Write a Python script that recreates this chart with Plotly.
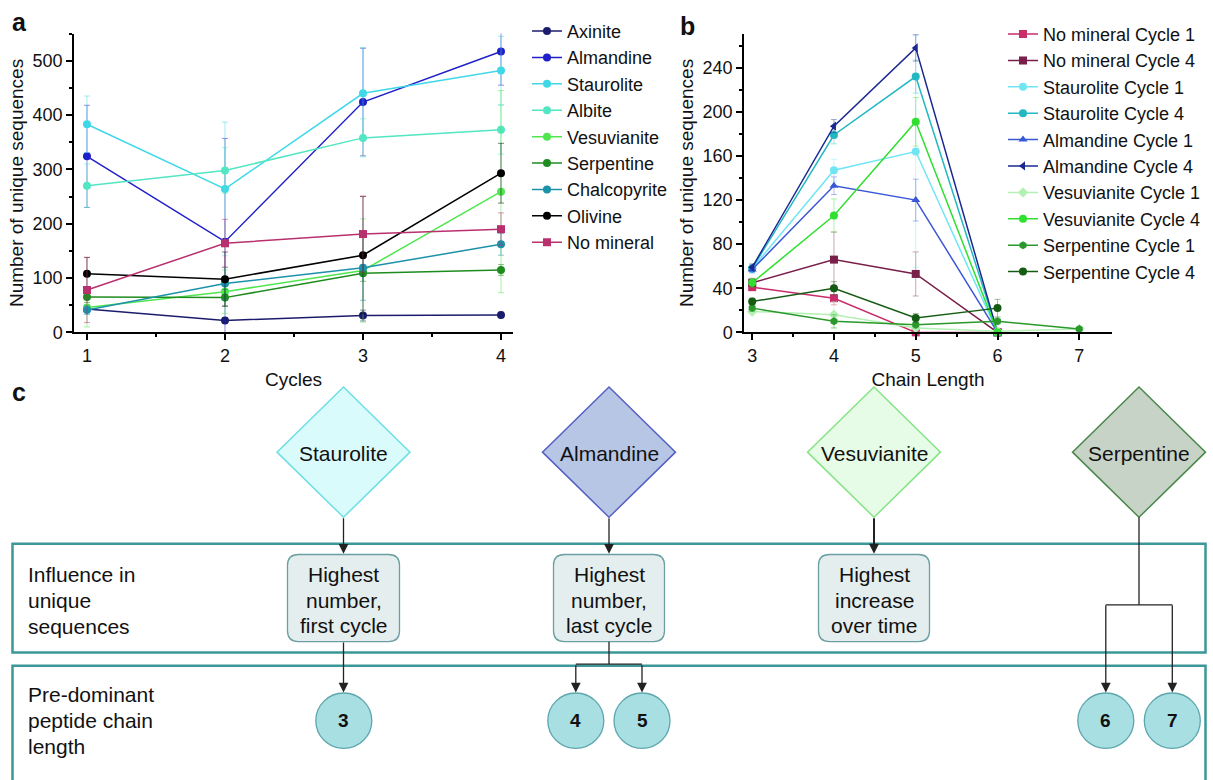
import plotly.graph_objects as go

W, H = 1213, 780
FONT = "Liberation Sans, Arial, Helvetica, sans-serif"


def px(x):
    return x / W


def py(y):
    return 1 - y / H


# ---------------- Panel a data ----------------
cycles = [1, 2, 3, 4]
names_a = ["Axinite", "Almandine", "Staurolite", "Albite", "Vesuvianite",
           "Serpentine", "Chalcopyrite", "Olivine", "No mineral"]
axinite = [43, 22, 31, 32]
almandine = [324, 167, 424, 517]
staurolite = [383, 264, 440, 482]
albite = [270, 298, 358, 373]
vesuvianite = [46, 75, 114, 259]
serpentine = [65, 64, 109, 115]
chalcopyrite = [41, 90, 119, 162]
olivine = [108, 98, 142, 293]
no_mineral = [78, 164, 181, 190]

err_axinite = [5, 5, 10, 5]
err_almandine = [94, 190, 99, 62]
err_staurolite = [52, 123, 84, 63]
err_albite = [40, 42, 35, 45]
err_vesuvianite = [36, 40, 95, 186]
err_serpentine = [10, 15, 15, 10]
err_chalcopyrite = [8, 30, 60, 20]
err_olivine = [30, 50, 108, 55]
err_no_mineral = [60, 44, 70, 30]

colors_a = ["#1c1c6e", "#2020c8", "#40d8e8", "#52e6c2", "#50e650",
            "#1f8c1f", "#1c92aa", "#000000", "#b8306e"]
symbols_a = ["circle"] * 8 + ["square"]

# ---------------- Panel b data ----------------
chain_length = [3, 4, 5, 6, 7]
names_b = ["No mineral Cycle 1", "No mineral Cycle 4", "Staurolite Cycle 1",
           "Staurolite Cycle 4", "Almandine Cycle 1", "Almandine Cycle 4",
           "Vesuvianite Cycle 1", "Vesuvianite Cycle 4", "Serpentine Cycle 1",
           "Serpentine Cycle 4"]
nomin_c1 = [41, 31, 0, 0, None]
nomin_c4 = [45, 66, 53, 0, None]
staur_c1 = [58, 147, 164, 0, None]
staur_c4 = [58, 179, 232, 0, None]
alman_c1 = [57, 133, 120, 0, None]
alman_c4 = [59, 187, 258, 0, None]
vesuv_c1 = [19, 16, 4, 1, 3]
vesuv_c4 = [45, 106, 191, 0, None]
serp_c1 = [22, 10, 7, 10, 3]
serp_c4 = [28, 40, 13, 22, None]

err_nomin_c1 = [3, 6, 0, 0, 0]
err_nomin_c4 = [4, 25, 20, 0, 0]
err_staur_c1 = [4, 10, 105, 0, 0]
err_staur_c4 = [3, 8, 15, 0, 0]
err_alman_c1 = [3, 8, 19, 0, 0]
err_alman_c4 = [3, 6, 12, 0, 0]
err_vesuv_c1 = [3, 12, 3, 0, 1]
err_vesuv_c4 = [4, 15, 22, 0, 0]
err_serp_c1 = [3, 6, 3, 3, 1]
err_serp_c4 = [3, 6, 4, 8, 0]

colors_b = ["#c82c6a", "#7a1e4a", "#70e6f4", "#22b8c2", "#3a58d6",
            "#1a2890", "#b4f0b4", "#30e030", "#2a982a", "#145c14"]
symbols_b = ["square", "square", "circle", "circle", "triangle-up",
             "triangle-left", "diamond", "circle", "hexagon", "circle"]


def light(hexcol, a=0.45):
    h = hexcol.lstrip("#")
    r, g, b = int(h[0:2], 16), int(h[2:4], 16), int(h[4:6], 16)
    return f"rgba({r},{g},{b},{a})"


fig = go.Figure()

series_a = [axinite, almandine, staurolite, albite, vesuvianite, serpentine,
            chalcopyrite, olivine, no_mineral]
errs_a = [err_axinite, err_almandine, err_staurolite, err_albite, err_vesuvianite,
          err_serpentine, err_chalcopyrite, err_olivine, err_no_mineral]
for name, vals, errs, col, sym in zip(names_a, series_a, errs_a, colors_a, symbols_a):
    fig.add_trace(go.Scatter(
        x=cycles, y=vals, name=name, mode="lines+markers",
        line=dict(color=col, width=1.5),
        marker=dict(color=col, size=8, symbol=sym),
        error_y=dict(type="data", array=errs, color=light(col, 0.5),
                     thickness=1, width=3),
        xaxis="x", yaxis="y", legend="legend", cliponaxis=False))

series_b = [nomin_c1, nomin_c4, staur_c1, staur_c4, alman_c1, alman_c4,
            vesuv_c1, vesuv_c4, serp_c1, serp_c4]
errs_b = [err_nomin_c1, err_nomin_c4, err_staur_c1, err_staur_c4, err_alman_c1,
          err_alman_c4, err_vesuv_c1, err_vesuv_c4, err_serp_c1, err_serp_c4]
for name, vals, errs, col, sym in zip(names_b, series_b, errs_b, colors_b, symbols_b):
    fig.add_trace(go.Scatter(
        x=chain_length, y=vals, name=name, mode="lines+markers",
        line=dict(color=col, width=1.5),
        marker=dict(color=col, size=8, symbol=sym),
        error_y=dict(type="data", array=errs, color=light(col, 0.4),
                     thickness=1, width=3),
        xaxis="x2", yaxis="y2", legend="legend2", cliponaxis=False))

axis_common = dict(showline=True, linecolor="black", linewidth=1.5,
                   ticks="outside", ticklen=6, tickwidth=1.5, tickcolor="black",
                   showgrid=False, zeroline=False,
                   tickfont=dict(family=FONT, size=18, color="#111"))

ydom = [py(336.7), py(34)]
fig.update_layout(
    width=W, height=H, margin=dict(l=0, r=0, t=0, b=0),
    paper_bgcolor="white", plot_bgcolor="rgba(0,0,0,0)",
    font=dict(family=FONT, color="#111"),
    xaxis=dict(domain=[px(74), px(513)], range=[0.906, 4.087], tickvals=cycles,
               minor=dict(ticks="outside", ticklen=3, tickcolor="black", dtick=0.5, tick0=1),
               title=dict(text="Cycles", font=dict(size=19), standoff=8),
               anchor="y", **axis_common),
    yaxis=dict(domain=ydom, range=[0, 550], dtick=100,
               minor=dict(ticks="outside", ticklen=3, tickcolor="black", dtick=50),
               title=dict(text="Number of unique sequences", font=dict(size=19), standoff=4),
               anchor="x", **axis_common),
    xaxis2=dict(domain=[px(744), px(1112)], range=[2.9, 7.4], tickvals=chain_length,
                minor=dict(ticks="outside", ticklen=3, tickcolor="black", dtick=0.5, tick0=3),
                title=dict(text="Chain Length", font=dict(size=19), standoff=8),
                anchor="y2", **axis_common),
    yaxis2=dict(domain=ydom, range=[0, 271], dtick=40,
                minor=dict(ticks="outside", ticklen=3, tickcolor="black", dtick=20),
                title=dict(text="Number of unique sequences", font=dict(size=19), standoff=4),
                anchor="x2", **axis_common),
    legend=dict(x=px(527), y=py(13), xanchor="left", yanchor="top",
                bgcolor="rgba(0,0,0,0)", font=dict(family=FONT, size=18, color="#111")),
    legend2=dict(x=px(1003), y=py(16), xanchor="left", yanchor="top",
                 bgcolor="rgba(0,0,0,0)", font=dict(family=FONT, size=18, color="#111")),
    showlegend=True,
)

shapes = []
annotations = []

# Panel labels
for lab, x, y in [("a", 19, 22), ("b", 687, 26), ("c", 19, 397)]:
    annotations.append(dict(text=f"<b>{lab}</b>", x=px(x), y=py(y), xref="paper", yref="paper",
                            showarrow=False, font=dict(size=25, family=FONT, color="#111"),
                            xanchor="center", yanchor="middle"))

# ---------------- Panel c: flowchart ----------------
BAND = "#3c9898"
shapes.append(dict(type="rect", xref="paper", yref="paper", x0=px(12.5), x1=px(1205.5),
                   y0=py(661), y1=py(550.7), line=dict(color=BAND, width=2.5)))
# lower band runs off the bottom edge of the figure: draw its three visible sides
shapes.append(dict(type="path", xref="paper", yref="paper",
                   path=(f"M {px(12.5)},{py(795)} L {px(12.5)},{py(674.3)} "
                         f"L {px(1205.5)},{py(674.3)} L {px(1205.5)},{py(795)}"),
                   line=dict(color=BAND, width=2.5)))

row_labels = [(["Influence in", "unique", "sequences"], [581.7, 608.3, 634.5]),
              (["Pre-dominant", "peptide chain", "length"], [703.3, 730, 756.7])]
for lines, ys in row_labels:
    for t, y in zip(lines, ys):
        annotations.append(dict(text=t, x=px(26), y=py(y), xref="paper", yref="paper",
                                showarrow=False, xanchor="left", yanchor="middle",
                                font=dict(size=21, family=FONT, color="#111")))

diamonds = [("Staurolite", 343.5, "#d9fbfb", "#6fdfe3"),
            ("Almandine", 609, "#b8c6e6", "#5560c4"),
            ("Vesuvianite", 874, "#e6fce6", "#86e486"),
            ("Serpentine", 1139, "#c7d3c7", "#4a884a")]
cy, hw, hh = 458, 66.5, 66
for name, cx, fill, edge in diamonds:
    path = (f"M {px(cx)},{py(cy - hh)} L {px(cx + hw)},{py(cy)} "
            f"L {px(cx)},{py(cy + hh)} L {px(cx - hw)},{py(cy)} Z")
    shapes.append(dict(type="path", xref="paper", yref="paper", path=path,
                       fillcolor=fill, line=dict(color=edge, width=1.5)))
    annotations.append(dict(text=name, x=px(cx), y=py(cy + 1), xref="paper", yref="paper",
                            showarrow=False, xanchor="center", yanchor="middle",
                            font=dict(size=21, family=FONT, color="#111")))


def rounded_rect(x0, y0, x1, y1, r):
    return (f"M {px(x0 + r)},{py(y0)} L {px(x1 - r)},{py(y0)} "
            f"Q {px(x1)},{py(y0)} {px(x1)},{py(y0 + r)} L {px(x1)},{py(y1 - r)} "
            f"Q {px(x1)},{py(y1)} {px(x1 - r)},{py(y1)} L {px(x0 + r)},{py(y1)} "
            f"Q {px(x0)},{py(y1)} {px(x0)},{py(y1 - r)} L {px(x0)},{py(y0 + r)} "
            f"Q {px(x0)},{py(y0)} {px(x0 + r)},{py(y0)} Z")


boxes = [(343.5, 287.5, 399.5, ["Highest", "number,", "first cycle"]),
         (609, 553.5, 664.5, ["Highest", "number,", "last cycle"]),
         (874, 818.5, 929.5, ["Highest", "increase", "over time"])]
for cx, x0, x1, lines in boxes:
    shapes.append(dict(type="path", xref="paper", yref="paper",
                       path=rounded_rect(x0, 561.7, x1, 650, 11),
                       fillcolor="#e5eeee", line=dict(color="#6c9fa2", width=1.3)))
    for t, y in zip(lines, [581.5, 608, 634]):
        annotations.append(dict(text=t, x=px(cx), y=py(y), xref="paper", yref="paper",
                                showarrow=False, xanchor="center", yanchor="middle",
                                font=dict(size=21, family=FONT, color="#111")))

circles = [("3", 343.8), ("4", 575.8), ("5", 642), ("6", 1105.8), ("7", 1172.3)]
r = 28
for t, cx in circles:
    shapes.append(dict(type="circle", xref="paper", yref="paper",
                       x0=px(cx - r), x1=px(cx + r), y0=py(730 + r), y1=py(730 - r),
                       fillcolor="#a8dfe3", line=dict(color="#5ea6ae", width=1.3)))
    annotations.append(dict(text=f"<b>{t}</b>", x=px(cx), y=py(730), xref="paper", yref="paper",
                            showarrow=False, xanchor="center", yanchor="middle",
                            font=dict(size=19, family=FONT, color="#111")))

LINE = "#222222"


def seg(x0, y0, x1, y1, w=1.3):
    shapes.append(dict(type="line", xref="paper", yref="paper", x0=px(x0), y0=py(y0),
                       x1=px(x1), y1=py(y1), line=dict(color=LINE, width=w)))


def arrow(x, y0, y1, w=1.3, size=1.5):
    annotations.append(dict(text="", x=px(x), y=py(y1), xref="paper", yref="paper",
                            ax=0, ay=-(y1 - y0), showarrow=True, arrowhead=2,
                            arrowsize=size, arrowwidth=w, arrowcolor=LINE, standoff=0))


# Staurolite
arrow(343.5, 524, 561)
arrow(343.5, 650, 701.5)
# Almandine
arrow(609, 524, 561)
seg(609, 650, 609, 672.7)
seg(575.8, 672.7, 642, 672.7)
arrow(575.8, 672.7, 701.5)
arrow(642, 672.7, 701.5)
# Vesuvianite
arrow(874, 524, 561, w=2, size=1.0)
# Serpentine
seg(1139, 524, 1139, 612.7)
seg(1105.8, 612.7, 1172.3, 612.7)
arrow(1105.8, 612.7, 701.5)
arrow(1172.3, 612.7, 701.5)

fig.update_layout(shapes=shapes, annotations=annotations)

page_fix = ("document.documentElement.style.margin='0';"
            "document.body.style.margin='0';document.body.style.overflow='hidden';")
fig.write_html("out.html", config={"displayModeBar": False}, post_script=page_fix)
